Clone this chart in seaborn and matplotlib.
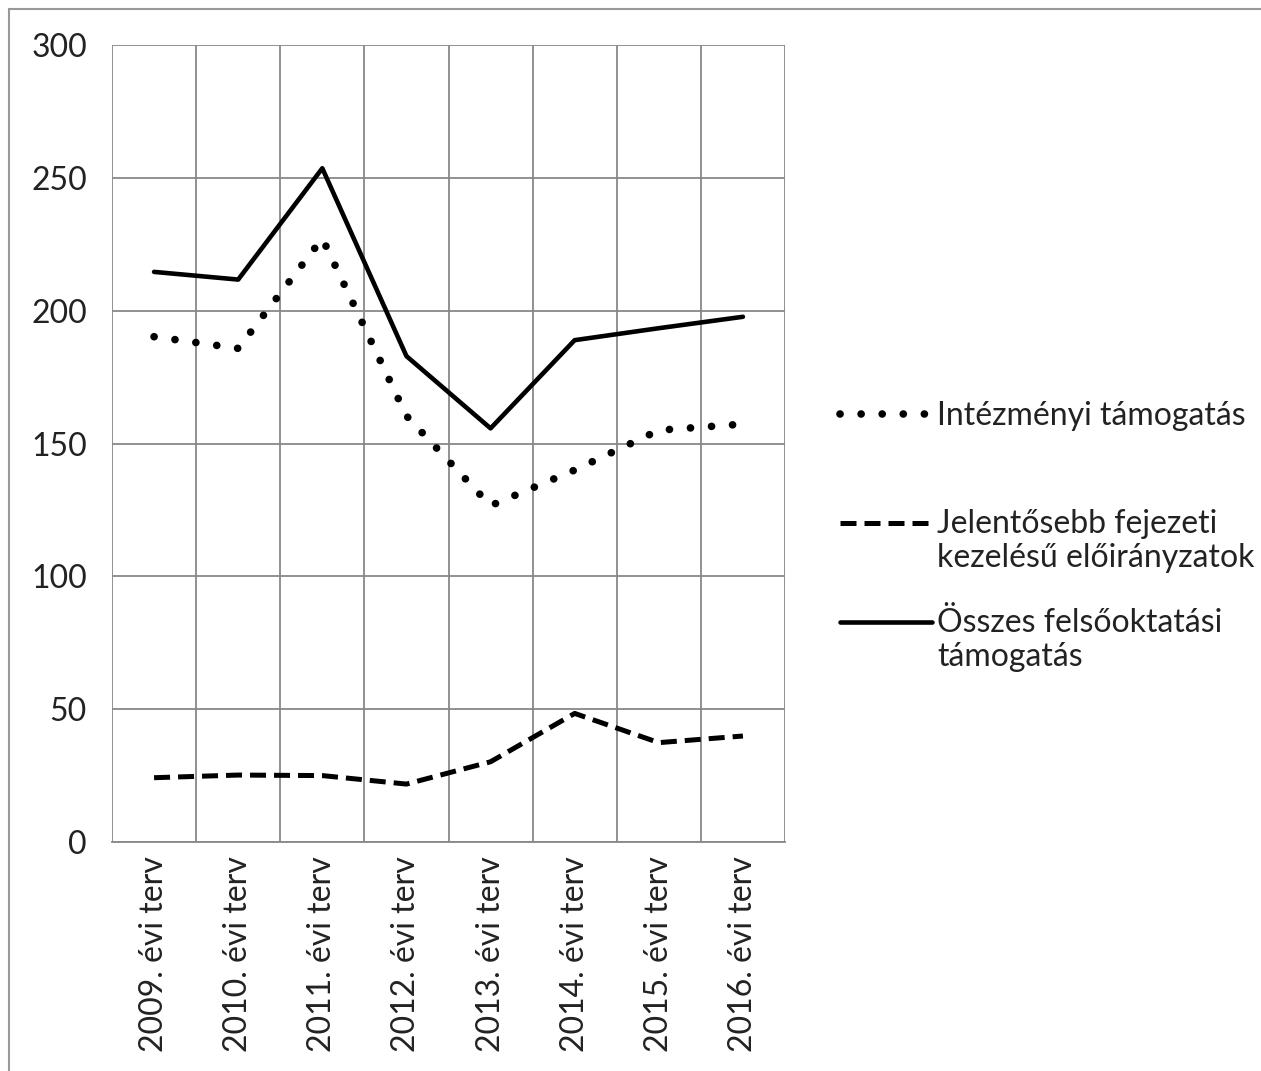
import matplotlib
matplotlib.use("Agg")
import matplotlib.pyplot as plt
import seaborn as sns
import pandas as pd
import numpy as np
from matplotlib.patches import Rectangle
from matplotlib.legend_handler import HandlerLine2D

categories = ["2009. évi terv", "2010. évi terv", "2011. évi terv", "2012. évi terv",
              "2013. évi terv", "2014. évi terv", "2015. évi terv", "2016. évi terv"]
intezmenyi = [190.2, 185.8, 227.2, 160.4, 126.6, 140.0, 155.0, 157.3]
fejezeti = [24.2, 25.2, 25.0, 21.8, 30.2, 48.4, 37.4, 39.9]
osszes = [214.6, 211.7, 253.6, 182.9, 155.7, 188.9, 193.4, 197.7]
yticks = [0, 50, 100, 150, 200, 250, 300]

lab_int = "Intézményi támogatás"
lab_fej = "Jelentősebb fejezeti\nkezelésű előirányzatok"
lab_ossz = "Összes felsőoktatási\ntámogatás"

sns.set_theme(style="white")
plt.rcParams['font.family'] = ['Lato', 'DejaVu Sans']

FS = 23
TXT = "#222222"
GRID = "#888888"

W, H, DPI = 1261, 1071, 100
fig = plt.figure(figsize=(W / DPI, H / DPI), dpi=DPI)
ax = fig.add_axes([112 / W, 1 - 842 / H, (785 - 112) / W, (842 - 45) / H])

x = list(range(len(categories)))
df = pd.DataFrame({"x": x, "int": intezmenyi, "fej": fejezeti, "ossz": osszes})

sns.lineplot(data=df, x="x", y="int", ax=ax, color="black", lw=5.5,
             linestyle=(0, (0.01, 2.75)), dash_capstyle="round", legend=False)
sns.lineplot(data=df, x="x", y="fej", ax=ax, color="black", lw=3.6,
             linestyle=(0, (3.2, 1.6)), dash_capstyle="butt", legend=False)
sns.lineplot(data=df, x="x", y="ossz", ax=ax, color="black", lw=3.3,
             legend=False)
lines = ax.get_lines()

ax.set_xlim(-0.5, len(categories) - 0.5)
ax.set_ylim(0, 300)
ax.set_yticks(yticks)
ax.set_yticklabels([str(v) for v in yticks], fontsize=FS, color=TXT)
ax.set_xticks(x)
ax.set_xticklabels(categories, rotation=90, fontsize=FS, color=TXT)
ax.set_xticks([i - 0.5 for i in range(len(categories) + 1)], minor=True)
ax.tick_params(axis="x", which="major", length=0, pad=10)
ax.tick_params(axis="x", which="minor", length=9, width=1.3, color=GRID, direction="out")
ax.tick_params(axis="y", which="major", length=9, width=1.3, color=GRID, direction="out", pad=9)
ax.set_xlabel("")
ax.set_ylabel("")

ax.grid(False)
ax.xaxis.grid(True, which="minor", color=GRID, lw=1.3)
ax.yaxis.grid(True, which="major", color=GRID, lw=1.3)
for s in ["top", "right", "left"]:
    ax.spines[s].set_visible(False)
ax.spines["bottom"].set_color(GRID)
ax.spines["bottom"].set_linewidth(1.3)


class TopLineHandler(HandlerLine2D):
    def __init__(self, dy=0.0, **kw):
        super().__init__(**kw)
        self.dy = dy

    def create_artists(self, legend, orig_handle, xdescent, ydescent, width,
                       height, fontsize, trans):
        arts = super().create_artists(legend, orig_handle, xdescent, ydescent,
                                      width, height, fontsize, trans)
        for a in arts:
            a.set_ydata(np.asarray(a.get_ydata(), dtype=float) + self.dy)
        return arts


entries = [(lines[0], lab_int, 416, 0.0),
           (lines[1], lab_fej, 541, 13.5),
           (lines[2], lab_ossz, 640, 13.5)]
for line, lab, yc, dy in entries:
    leg = fig.legend([line], [lab], loc="center left",
                     bbox_to_anchor=(840 / W, 1 - yc / H),
                     bbox_transform=fig.transFigure, frameon=False, fontsize=FS,
                     handlelength=2.88, handletextpad=0.16, borderpad=0,
                     borderaxespad=0, handler_map={line: TopLineHandler(dy=dy)})
    for t in leg.get_texts():
        t.set_color(TXT)

fig.patches.append(Rectangle((9 / W, -0.05), 2, 1.05 - 9 / H, transform=fig.transFigure,
                             fill=False, edgecolor="#999999", lw=1.5))

fig.savefig("out.png", dpi=DPI, facecolor="white")
